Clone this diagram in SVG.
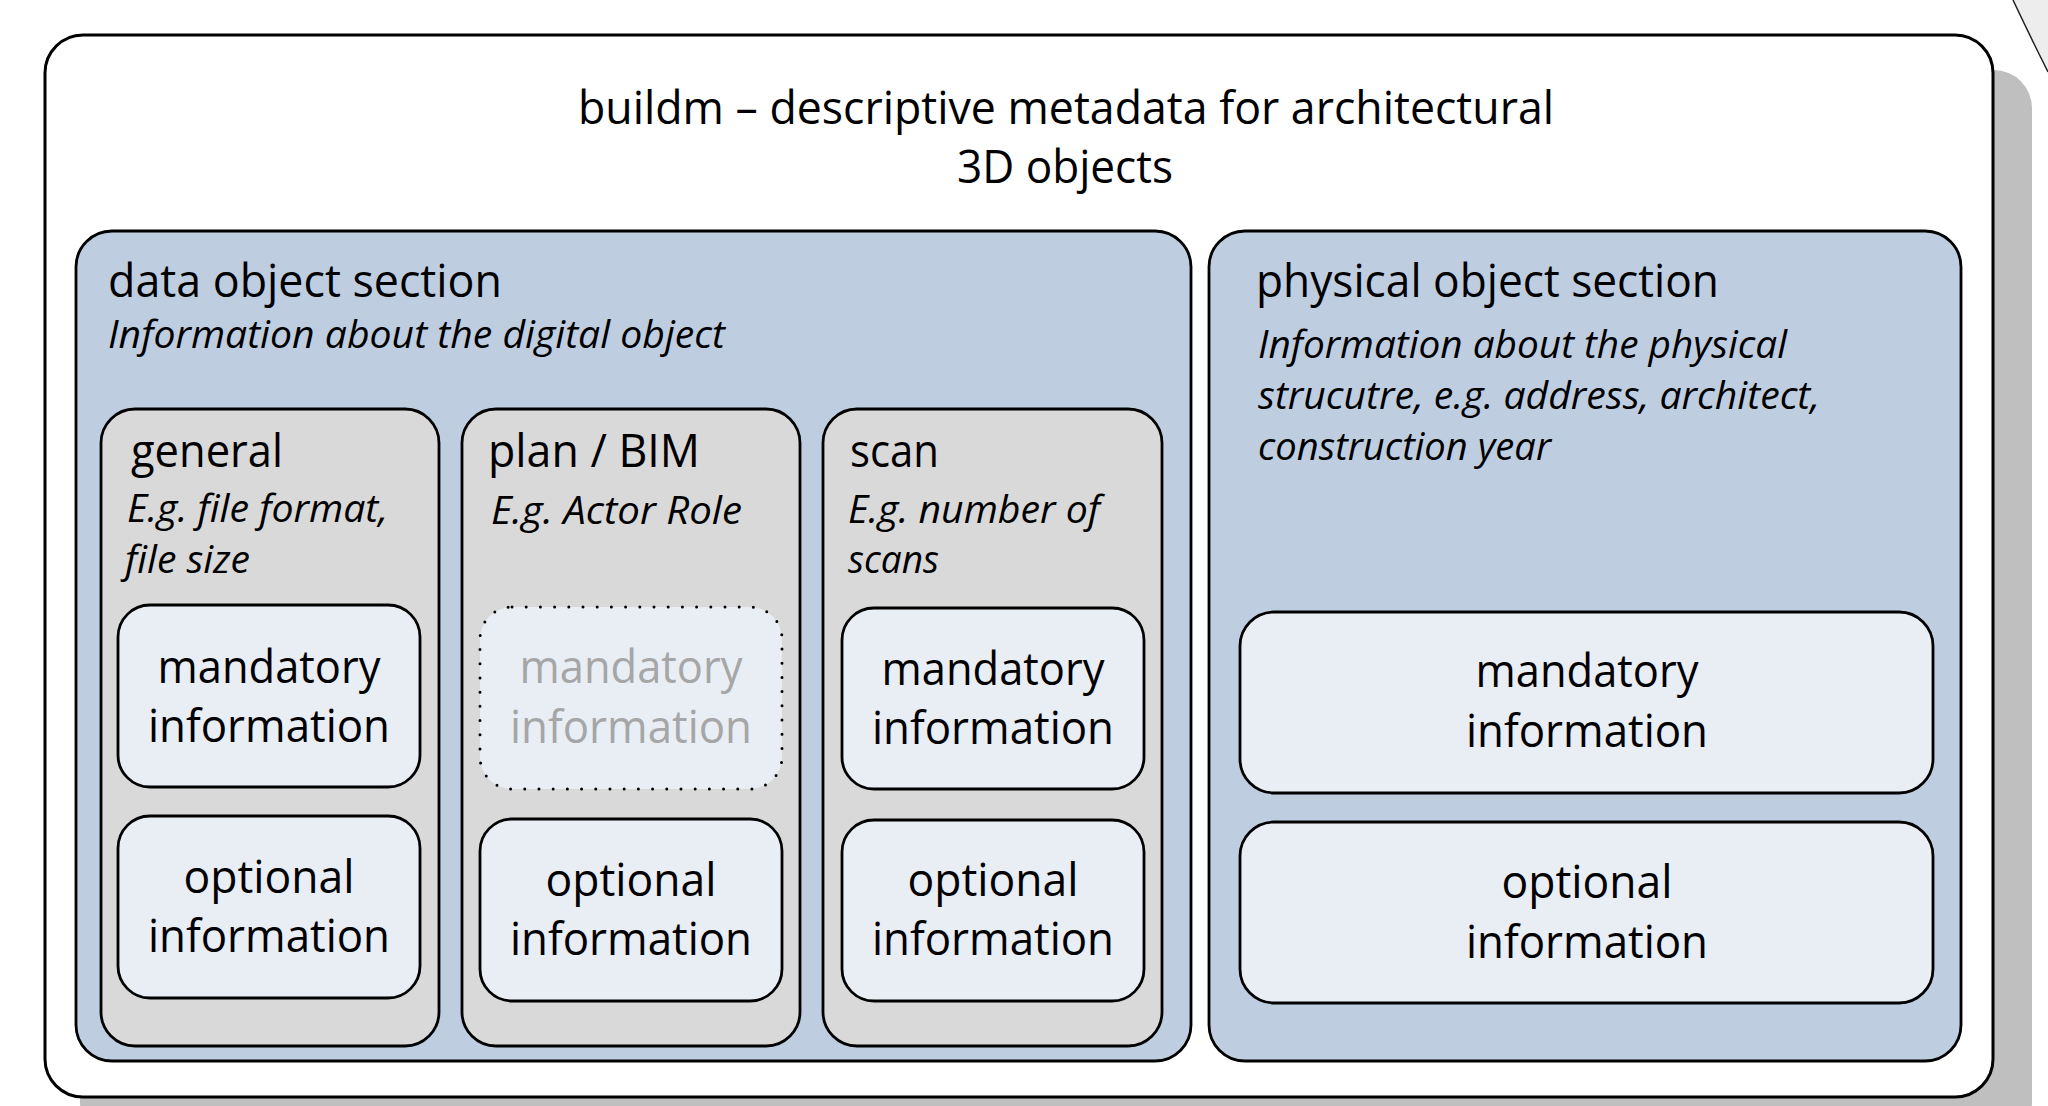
<svg xmlns="http://www.w3.org/2000/svg" width="2048" height="1106" viewBox="0 0 2048 1106">
  <style>
    text { font-family: "Open Sans", "Noto Sans", sans-serif; fill: #000; }
    .big { font-size: 45px; }
    .it { font-size: 38px; font-style: italic; }
    .c { text-anchor: middle; }
    .ghost { fill: #A6A6A6; }
    .frame { fill: #FFFFFF; stroke: #000; stroke-width: 3; }
    .section { fill: #BECEE0; stroke: #000; stroke-width: 2.8; }
    .column { fill: #D9D9D9; stroke: #000; stroke-width: 2.8; }
    .box { fill: #E9EDF4; stroke: #000; stroke-width: 2.8; }
    .dotted { fill: #E9EEF5; stroke: #000; stroke-width: 3; stroke-dasharray: 0 14.2; stroke-linecap: round; }
  </style>

  <rect width="2048" height="1106" fill="#FFFFFF"/>

  <!-- edge of a neighbouring shape at the top right -->
  <path d="M2013,0 Q2029,34 2048,72 L2048,0 Z" fill="#EDEDED" stroke="none"/>
  <path d="M2013,0 Q2029,34 2048,72" fill="none" stroke="#222" stroke-width="1.5"/>

  <!-- outer frame with drop shadow -->
  <g id="buildm">
    <rect x="80" y="70" width="1952" height="1070" rx="38" fill="#BFBFBF"/>
    <rect class="frame" x="45" y="35" width="1948" height="1062" rx="38"/>
    <text class="big c" x="1066" y="124" textLength="976" lengthAdjust="spacingAndGlyphs">buildm – descriptive metadata for architectural</text>
    <text class="big c" x="1065" y="183" textLength="216" lengthAdjust="spacingAndGlyphs">3D objects</text>
  </g>

  <!-- data object section -->
  <g id="data-object-section">
    <rect class="section" x="76" y="231" width="1115" height="830" rx="36"/>
    <text class="big" x="108" y="297" textLength="394" lengthAdjust="spacingAndGlyphs">data object section</text>
    <text class="it" x="108" y="348" textLength="617" lengthAdjust="spacingAndGlyphs">Information about the digital object</text>
  </g>

  <g id="general">
    <rect class="column" x="101" y="409" width="338" height="637" rx="34"/>
    <text class="big" x="131" y="467" textLength="152" lengthAdjust="spacingAndGlyphs">general</text>
    <text class="it" x="127" y="522" textLength="261" lengthAdjust="spacingAndGlyphs">E.g. file format,</text>
    <text class="it" x="125" y="573" textLength="125" lengthAdjust="spacingAndGlyphs">file size</text>
  </g>
  <g id="general-mandatory">
    <rect class="box" x="118" y="605" width="302" height="182" rx="32"/>
    <text class="big c" x="269" y="683" textLength="223" lengthAdjust="spacingAndGlyphs">mandatory</text>
    <text class="big c" x="269" y="742" textLength="242" lengthAdjust="spacingAndGlyphs">information</text>
  </g>
  <g id="general-optional">
    <rect class="box" x="118" y="816" width="302" height="182" rx="32"/>
    <text class="big c" x="269" y="893" textLength="171" lengthAdjust="spacingAndGlyphs">optional</text>
    <text class="big c" x="269" y="952" textLength="242" lengthAdjust="spacingAndGlyphs">information</text>
  </g>

  <g id="plan-bim">
    <rect class="column" x="462" y="409" width="338" height="637" rx="34"/>
    <text class="big" x="488" y="467" textLength="212" lengthAdjust="spacingAndGlyphs">plan / BIM</text>
    <text class="it" x="491" y="524" textLength="251" lengthAdjust="spacingAndGlyphs">E.g. Actor Role</text>
  </g>
  <g id="plan-bim-mandatory">
    <rect class="dotted" x="480" y="607" width="302" height="182" rx="32"/>
    <text class="big c ghost" x="631" y="683" textLength="223" lengthAdjust="spacingAndGlyphs">mandatory</text>
    <text class="big c ghost" x="631" y="743" textLength="242" lengthAdjust="spacingAndGlyphs">information</text>
  </g>
  <g id="plan-bim-optional">
    <rect class="box" x="480" y="819" width="302" height="182" rx="32"/>
    <text class="big c" x="631" y="896" textLength="171" lengthAdjust="spacingAndGlyphs">optional</text>
    <text class="big c" x="631" y="955" textLength="242" lengthAdjust="spacingAndGlyphs">information</text>
  </g>

  <g id="scan">
    <rect class="column" x="823" y="409" width="339" height="637" rx="34"/>
    <text class="big" x="850" y="467" textLength="89" lengthAdjust="spacingAndGlyphs">scan</text>
    <text class="it" x="848" y="523" textLength="252" lengthAdjust="spacingAndGlyphs">E.g. number of</text>
    <text class="it" x="848" y="573" textLength="91" lengthAdjust="spacingAndGlyphs">scans</text>
  </g>
  <g id="scan-mandatory">
    <rect class="box" x="842" y="608" width="302" height="181" rx="32"/>
    <text class="big c" x="993" y="685" textLength="223" lengthAdjust="spacingAndGlyphs">mandatory</text>
    <text class="big c" x="993" y="744" textLength="242" lengthAdjust="spacingAndGlyphs">information</text>
  </g>
  <g id="scan-optional">
    <rect class="box" x="842" y="820" width="302" height="181" rx="32"/>
    <text class="big c" x="993" y="896" textLength="171" lengthAdjust="spacingAndGlyphs">optional</text>
    <text class="big c" x="993" y="955" textLength="242" lengthAdjust="spacingAndGlyphs">information</text>
  </g>

  <!-- physical object section -->
  <g id="physical-object-section">
    <rect class="section" x="1209" y="231" width="752" height="830" rx="36"/>
    <text class="big" x="1256" y="297" textLength="463" lengthAdjust="spacingAndGlyphs">physical object section</text>
    <text class="it" x="1258" y="358" textLength="529" lengthAdjust="spacingAndGlyphs">Information about the physical</text>
    <text class="it" x="1258" y="409" textLength="562" lengthAdjust="spacingAndGlyphs">strucutre, e.g. address, architect,</text>
    <text class="it" x="1258" y="460" textLength="293" lengthAdjust="spacingAndGlyphs">construction year</text>
  </g>
  <g id="physical-mandatory">
    <rect class="box" x="1240" y="612" width="693" height="181" rx="34"/>
    <text class="big c" x="1587" y="687" textLength="223" lengthAdjust="spacingAndGlyphs">mandatory</text>
    <text class="big c" x="1587" y="747" textLength="242" lengthAdjust="spacingAndGlyphs">information</text>
  </g>
  <g id="physical-optional">
    <rect class="box" x="1240" y="822" width="693" height="181" rx="34"/>
    <text class="big c" x="1587" y="898" textLength="171" lengthAdjust="spacingAndGlyphs">optional</text>
    <text class="big c" x="1587" y="958" textLength="242" lengthAdjust="spacingAndGlyphs">information</text>
  </g>

  <g id="connectors"/>
</svg>
